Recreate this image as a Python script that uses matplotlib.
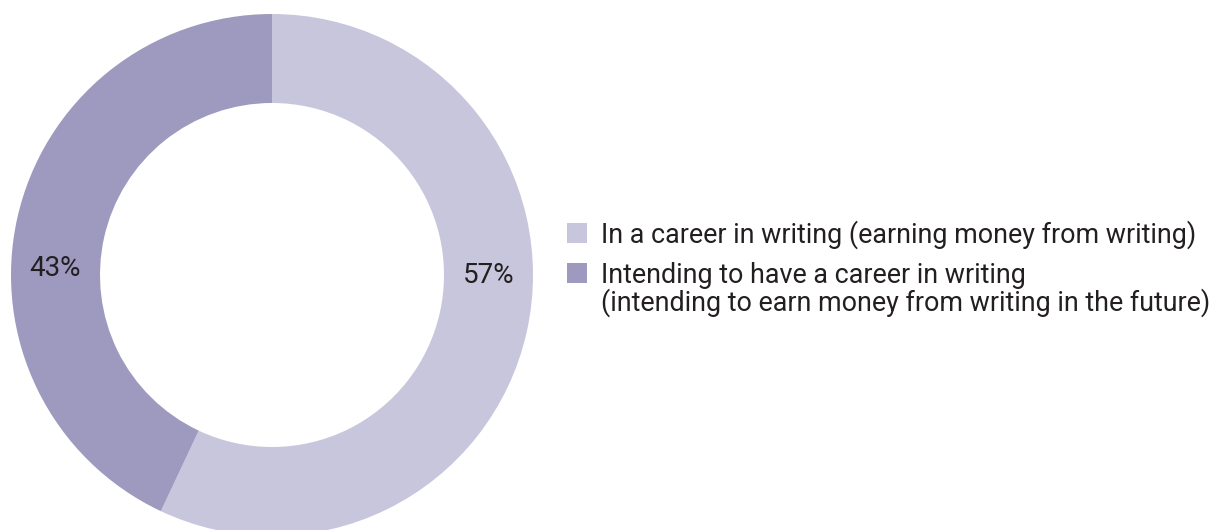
import matplotlib
matplotlib.use("Agg")
import matplotlib.pyplot as plt
from matplotlib.patches import Rectangle

plt.rcParams['font.family'] = ['Roboto', 'DejaVu Sans']

# share of respondents, clockwise from 12 o'clock
labels = ['In a career in writing (earning money from writing)',
          'Intending to have a career in writing\n(intending to earn money from writing in the future)']
shares = [57, 43]
colors = ['#c8c6dc', '#9e9abf']
text_color = '#231f20'

W, H = 1224, 530
fig = plt.figure(figsize=(W / 100, H / 100), dpi=100)

# donut: centre (272, 275) px from top-left, outer radius 261 px
cx, cy, R = 272, H - 275, 261
ax = fig.add_axes([(cx - R) / W, (cy - R) / H, 2 * R / W, 2 * R / H])
wedges, _ = ax.pie(shares, colors=colors, startangle=90, counterclock=False,
                   radius=1, wedgeprops=dict(width=0.341, linewidth=0))
ax.set_xlim(-1, 1)
ax.set_ylim(-1, 1)
ax.set_aspect('equal')
ax.axis('off')

# percentage labels sit on the ring at roughly 3 and 9 o'clock
label_pos = [(0.83, -0.003), (-0.83, 0.026)]
for v, (x, y) in zip(shares, label_pos):
    ax.text(x, y, f'{v}%', ha='center', va='center', fontsize=20, color=text_color)

# legend drawn by hand so the swatch lines up with the first text line
leg_x, sq = 567, 20
leg_tops = [223, 263]
line_gap = 28
for lab, col, top in zip(labels, colors, leg_tops):
    fig.patches.append(Rectangle((leg_x / W, (H - top - sq) / H), sq / W, sq / H,
                                 transform=fig.transFigure, facecolor=col,
                                 edgecolor='none'))
    baseline = top + sq
    for i, line in enumerate(lab.split('\n')):
        fig.text(601 / W, (H - baseline - i * line_gap) / H, line, ha='left',
                 va='baseline', fontsize=19.4, color=text_color)

fig.savefig('out.png', dpi=100)
